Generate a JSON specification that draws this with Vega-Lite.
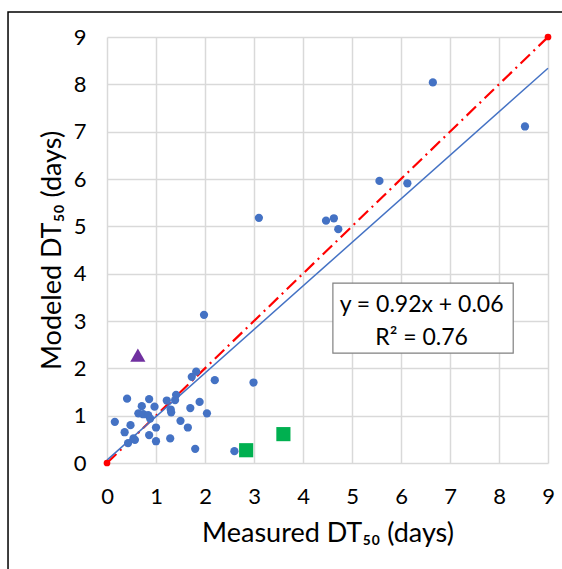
{
  "$schema": "https://vega.github.io/schema/vega-lite/v6.json",
  "autosize": "none",
  "width": 441,
  "height": 426,
  "padding": {"left": 107, "top": 37, "right": 14, "bottom": 106},
  "background": "white",
  "config": {
    "view": {"stroke": null},
    "font": "Lato",
    "axis": {
      "grid": true,
      "gridColor": "#d9d9d9",
      "gridWidth": 1.5,
      "domain": false,
      "ticks": false,
      "labelFlush": false,
      "labelOverlap": false,
      "labelFont": "Lato",
      "labelFontSize": 22,
      "labelColor": "#000000",
      "titleFont": "Lato",
      "titleFontSize": 27,
      "titleFontWeight": "normal",
      "titleColor": "#000000"
    }
  },
  "datasets": {
    "pts": [
      {"x": 1.73, "y": 1.82}, {"x": 1.82, "y": 1.93}, {"x": 2.20, "y": 1.75}, {"x": 2.99, "y": 1.70},
      {"x": 0.41, "y": 1.36}, {"x": 0.86, "y": 1.35}, {"x": 0.71, "y": 1.20}, {"x": 0.97, "y": 1.19},
      {"x": 1.22, "y": 1.32}, {"x": 1.41, "y": 1.44}, {"x": 1.39, "y": 1.33}, {"x": 1.30, "y": 1.13},
      {"x": 1.31, "y": 1.07}, {"x": 1.89, "y": 1.29}, {"x": 1.70, "y": 1.16}, {"x": 2.04, "y": 1.05},
      {"x": 0.64, "y": 1.05}, {"x": 0.74, "y": 1.03}, {"x": 0.84, "y": 1.01}, {"x": 0.88, "y": 0.94},
      {"x": 1.50, "y": 0.89}, {"x": 0.16, "y": 0.87}, {"x": 0.48, "y": 0.80}, {"x": 1.00, "y": 0.75},
      {"x": 1.65, "y": 0.75}, {"x": 0.36, "y": 0.65}, {"x": 0.86, "y": 0.59}, {"x": 0.54, "y": 0.52},
      {"x": 1.29, "y": 0.52}, {"x": 1.00, "y": 0.46}, {"x": 0.43, "y": 0.42}, {"x": 0.57, "y": 0.49},
      {"x": 1.80, "y": 0.30}, {"x": 2.60, "y": 0.25}, {"x": 1.98, "y": 3.13}, {"x": 3.10, "y": 5.18},
      {"x": 6.65, "y": 8.04}, {"x": 8.53, "y": 7.11}, {"x": 5.56, "y": 5.96}, {"x": 6.13, "y": 5.91},
      {"x": 4.47, "y": 5.12}, {"x": 4.63, "y": 5.17}, {"x": 4.72, "y": 4.94}
    ],
    "oneone": [{"x": 0, "y": 0}, {"x": 9, "y": 9}],
    "fit": [{"x": 0, "y": 0.06}, {"x": 9, "y": 8.34}],
    "tri": [{"x": 0.63, "y": 2.28}],
    "sq": [{"x": 2.84, "y": 0.27}, {"x": 3.60, "y": 0.61}],
    "box": [{"x": 4.61, "x2": 8.29, "y": 3.80, "y2": 2.32}],
    "frame": [{"x": -2.02, "x2": 12, "y": 9.53, "y2": -3}],
    "txt": [{"x": 6.42, "y": 3.19, "t": "y = 0.92x + 0.06"}, {"x": 6.42, "y": 2.49, "t": "R² = 0.76"}]
  },
  "layer": [
    {
      "data": {"name": "frame"},
      "mark": {"type": "rect", "fill": null, "stroke": "#000000", "strokeWidth": 1.5, "clip": false},
      "encoding": {
        "x": {"field": "x", "type": "quantitative", "scale": {"domain": [0, 9], "nice": false, "zero": false},
          "axis": {"values": [0,1,2,3,4,5,6,7,8,9], "labelPadding": 23, "title": "Measured DT₅₀ (days)", "titlePadding": 13}},
        "x2": {"field": "x2"},
        "y": {"field": "y", "type": "quantitative", "scale": {"domain": [0, 9], "nice": false, "zero": false},
          "axis": {"values": [0,1,2,3,4,5,6,7,8,9], "labelPadding": 21, "title": "Modeled DT₅₀ (days)", "titlePadding": 7}},
        "y2": {"field": "y2"}
      }
    },
    {
      "data": {"name": "oneone"},
      "mark": {"type": "line", "color": "#ff0000", "strokeWidth": 2.2, "strokeDash": [13, 5, 2, 5]},
      "encoding": {"x": {"field": "x", "type": "quantitative"}, "y": {"field": "y", "type": "quantitative"}}
    },
    {
      "data": {"name": "fit"},
      "mark": {"type": "line", "color": "#4472c4", "strokeWidth": 1.5},
      "encoding": {"x": {"field": "x", "type": "quantitative"}, "y": {"field": "y", "type": "quantitative"}}
    },
    {
      "data": {"name": "pts"},
      "mark": {"type": "point", "shape": "circle", "filled": true, "color": "#4472c4", "opacity": 1, "size": 68},
      "encoding": {"x": {"field": "x", "type": "quantitative"}, "y": {"field": "y", "type": "quantitative"}}
    },
    {
      "data": {"name": "oneone"},
      "mark": {"type": "point", "shape": "circle", "filled": true, "color": "#ff0000", "opacity": 1, "size": 45, "clip": false},
      "encoding": {"x": {"field": "x", "type": "quantitative"}, "y": {"field": "y", "type": "quantitative"}}
    },
    {
      "data": {"name": "tri"},
      "mark": {"type": "point", "shape": "triangle-up", "filled": true, "color": "#7030a0", "opacity": 1, "size": 230},
      "encoding": {"x": {"field": "x", "type": "quantitative"}, "y": {"field": "y", "type": "quantitative"}}
    },
    {
      "data": {"name": "sq"},
      "mark": {"type": "point", "shape": "square", "filled": true, "color": "#00b050", "opacity": 1, "size": 200},
      "encoding": {"x": {"field": "x", "type": "quantitative"}, "y": {"field": "y", "type": "quantitative"}}
    },
    {
      "data": {"name": "box"},
      "mark": {"type": "rect", "fill": "#ffffff", "stroke": "#808080", "strokeWidth": 1.2},
      "encoding": {
        "x": {"field": "x", "type": "quantitative"}, "x2": {"field": "x2"},
        "y": {"field": "y", "type": "quantitative"}, "y2": {"field": "y2"}
      }
    },
    {
      "data": {"name": "txt"},
      "mark": {"type": "text", "font": "Lato", "fontSize": 23, "color": "#000000", "align": "center", "baseline": "alphabetic"},
      "encoding": {"x": {"field": "x", "type": "quantitative"}, "y": {"field": "y", "type": "quantitative"}, "text": {"field": "t"}}
    }
  ]
}
